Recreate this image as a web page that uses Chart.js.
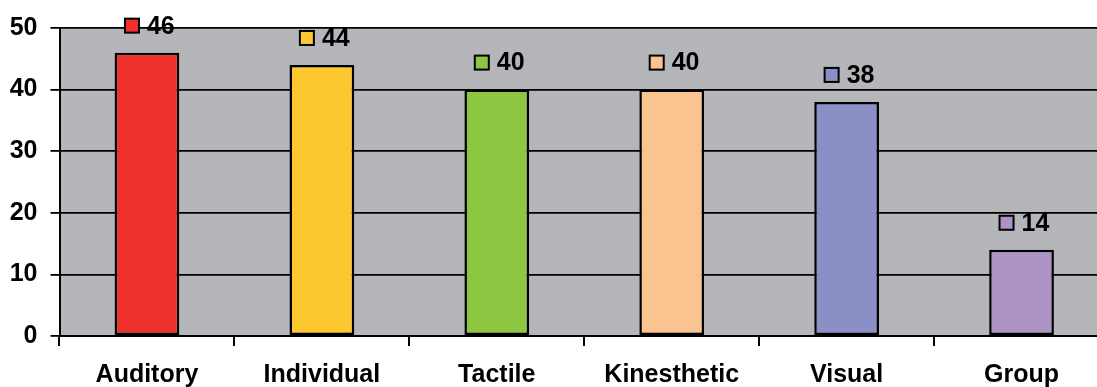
<!DOCTYPE html>
<html>
<head>
<meta charset="utf-8">
<script src="https://cdn.jsdelivr.net/npm/chart.js@4.4.1/dist/chart.umd.min.js"></script>
<style>
  html, body { margin: 0; padding: 0; background: #fff; overflow: hidden; }
  #wrap { width: 1112px; height: 387px; position: relative; }
</style>
</head>
<body>
<div id="wrap"><canvas id="chart"></canvas></div>
<script>
'use strict';

const categories = ['Auditory', 'Individual', 'Tactile', 'Kinesthetic', 'Visual', 'Group'];
const values = [46, 44, 40, 40, 38, 14];
const barColors = ['#ee312c', '#fdc82f', '#8dc641', '#fac491', '#8a8fc6', '#ac93c5'];
const yTicks = [0, 10, 20, 30, 40, 50];

const FONT = '"Liberation Sans", Arial, sans-serif';

// ─── Plot background ─────────────────────────────────────────────────────────

const plotBg = {
  id: 'plotBg',
  beforeDraw(chart) {
    const { ctx, chartArea: a } = chart;
    ctx.save();
    ctx.fillStyle = '#b5b6b9';
    ctx.fillRect(a.left, a.top, a.right - a.left, a.bottom - a.top);
    ctx.restore();
  },
};

// ─── Value labels with colour key ────────────────────────────────────────────

const valueLabels = {
  id: 'valueLabels',
  afterDatasetsDraw(chart) {
    const { ctx } = chart;
    const meta = chart.getDatasetMeta(0);
    ctx.save();
    ctx.font = `bold 25px ${FONT}`;
    ctx.textBaseline = 'middle';
    ctx.textAlign = 'left';
    meta.data.forEach((bar, i) => {
      const cy = bar.y - 27;
      ctx.fillStyle = barColors[i];
      ctx.fillRect(bar.x - 22, cy - 7, 14, 14);
      ctx.lineWidth = 2;
      ctx.strokeStyle = '#000';
      ctx.strokeRect(bar.x - 22, cy - 7, 14, 14);
      ctx.fillStyle = '#000';
      ctx.fillText(String(values[i]), bar.x, cy + 1);
    });
    ctx.restore();
  },
};

new Chart(document.getElementById('chart'), {
  type: 'bar',
  data: {
    labels: categories,
    datasets: [{
      data: values,
      backgroundColor: barColors,
      borderColor: '#000',
      borderWidth: 2.5,
      borderSkipped: false,
      barPercentage: 0.37,
      categoryPercentage: 1,
    }],
  },
  options: {
    responsive: true,
    maintainAspectRatio: false,
    animation: false,
    layout: { padding: { top: 28, right: 3, bottom: 0, left: 0 } },
    plugins: {
      legend: { display: false },
      tooltip: { enabled: false },
    },
    scales: {
      y: {
        min: 0,
        max: 50,
        afterBuildTicks: (axis) => { axis.ticks = yTicks.map(v => ({ value: v })); },
        afterFit: (axis) => { axis.width = 59.5; },
        border: { display: true, color: '#000', width: 2 },
        grid: { color: '#000', lineWidth: 1.8, tickLength: 9, tickColor: '#000' },
        ticks: {
          color: '#000',
          padding: 13,
          font: { family: FONT, size: 25, weight: 'bold' },
        },
      },
      x: {
        afterFit: (axis) => { axis.height = 51; },
        border: { display: true, color: '#000', width: 2 },
        grid: {
          offset: true,
          drawOnChartArea: false,
          drawTicks: true,
          tickLength: 10,
          tickColor: '#000',
          lineWidth: 2,
        },
        ticks: {
          color: '#000',
          padding: 14,
          font: { family: FONT, size: 25, weight: 'bold' },
        },
      },
    },
  },
  plugins: [plotBg, valueLabels],
});
</script>
</body>
</html>
